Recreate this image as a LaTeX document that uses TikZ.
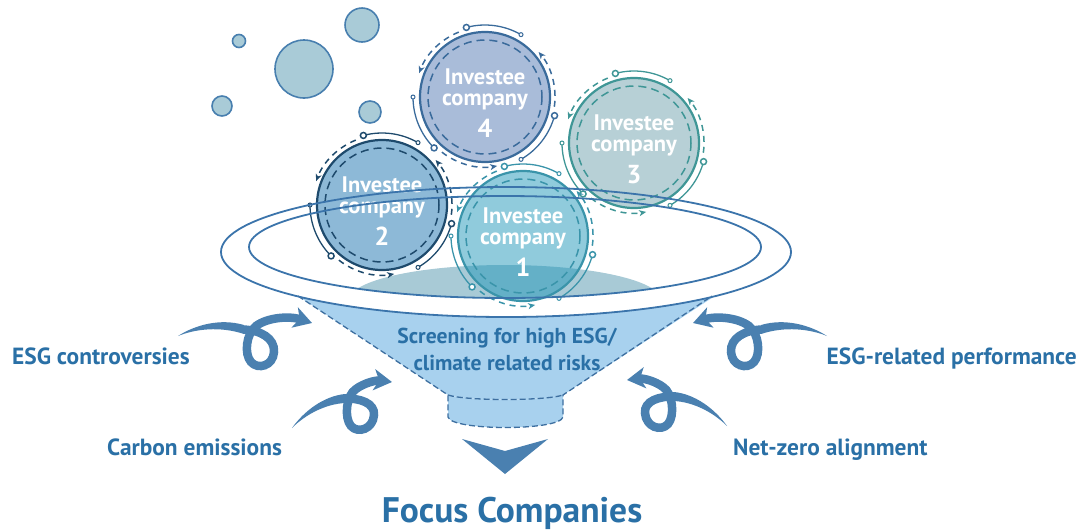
\documentclass[tikz,border=0pt]{standalone}
\usepackage{fontspec}
\setmainfont{PT Sans}
\usetikzlibrary{positioning,arrows.meta,calc}

\definecolor{rimblue}{RGB}{59,116,171}
\definecolor{swirlblue}{RGB}{74,128,176}
\definecolor{lblblue}{RGB}{42,112,166}
\definecolor{funfill}{RGB}{168,209,238}
\definecolor{funedge}{RGB}{61,111,160}
\definecolor{liquid}{RGB}{168,202,214}
\definecolor{bubfill}{RGB}{169,203,215}
\definecolor{bubline}{RGB}{72,127,175}
\definecolor{cAfill}{RGB}{33,151,185}
\definecolor{cAline}{RGB}{58,148,170}
\definecolor{cBfill}{RGB}{27,115,175}
\definecolor{cBline}{RGB}{30,74,108}
\definecolor{cCfill}{RGB}{111,161,173}
\definecolor{cCline}{RGB}{63,150,150}
\definecolor{cDfill}{RGB}{83,121,179}
\definecolor{cDline}{RGB}{58,107,155}

\newcommand{\compnum}{\fontsize{26}{26}\selectfont}

% rings, dots and arrows round one company
\newcommand{\orbit}[2]{%
  \draw[#2, line width=1.5pt, dash pattern=on 8pt off 5pt] (#1.center) circle[radius=57];
  \foreach \t in {0,120,240}{
    \draw[#2, line width=1.3pt] (#1.center) ++(-60-\t:72) arc[start angle=-60-\t, end angle=-105-\t, radius=72];
    \draw[#2, line width=1pt, fill=white] (#1.center) ++(-60-\t:72) circle[radius=2];
    \draw[#2, line width=1.5pt, fill=white] (#1.center) ++(-105-\t:72) circle[radius=3];
    \draw[#2, line width=1.5pt, dash pattern=on 6pt off 5pt, -{Stealth[length=7pt,width=6pt,inset=2pt]}] (#1.center) ++(-112-\t:70) arc[start angle=-112-\t, end angle=-160-\t, radius=70];
  }
}

% curly arrows, drawn round their loop
\newcommand{\swirlhi}{%
  \fill[swirlblue] (-82,-8) .. controls (-65,-19) and (-40,-26) .. (-16,-19) -- (-16,-10) .. controls (-40,-18) and (-65,-15) .. (-82,-8);
  \draw[swirl] (-17,-14.5) .. controls (0,-14) and (15,-6) .. (14,8) .. controls (13,22) and (-2,26) .. (-9,18) .. controls (-16,10) and (-14,-10) .. (-4,-18) .. controls (8,-27) and (30,-28) .. (52,-21);
}
\newcommand{\swirllo}{%
  \fill[swirlblue] (-68,21) .. controls (-56,4) and (-36,-11) .. (-15,-13) -- (-15,-4) .. controls (-34,-3) and (-54,7) .. (-68,21);
  \draw[swirl] (-16,-8.5) .. controls (0,-9) and (15,-4) .. (14,8) .. controls (13,22) and (-2,27) .. (-9,19) .. controls (-16,11) and (-14,-12) .. (-4,-18) .. controls (4,-24) and (16,-27) .. (32,-25);
}

\begin{document}
\begin{tikzpicture}[x=1pt, y=-1pt,
  company/.style={circle, minimum size=130pt, inner sep=0pt, line width=2.2pt, fill opacity=0.5},
  comptext/.style={text=white, align=center, inner sep=0pt, font=\bfseries\fontsize{22.5}{21}\selectfont},
  lbl/.style={inner sep=0pt, text=lblblue, font=\bfseries\fontsize{23.4}{27}\selectfont},
  rim/.style={draw=rimblue, line width=1.8pt},
  bubble/.style={draw=bubline, fill=bubfill, line width=1.6pt},
  funneledge/.style={draw=funedge, line width=1.3pt, dash pattern=on 6pt off 3pt},
  swirl/.style={draw=swirlblue, line width=8.5pt, -{Stealth[length=18pt,width=21pt,inset=5pt]}}]
\useasboundingbox (0,0) rectangle (1083,531);

% bubbles
\foreach \x/\y/\r in {239/41/6.5, 304/69/29, 362/25/17, 222/106/10, 370/112/11}
  \draw[bubble] (\x,\y) circle[radius=\r];

% liquid inside the rim
\begin{scope}
  \clip (505,247) ellipse[x radius=256, y radius=51];
  \fill[liquid] (505,300) ellipse[x radius=156, y radius=35];
\end{scope}

% funnel body and neck
\fill[funfill] (298,296) arc[start angle=137, end angle=43, x radius=285, y radius=65] -- (563,395) .. controls (545,401) and (466,401) .. (448,395) -- cycle;
\fill[funfill] (448,395) .. controls (466,401) and (545,401) .. (563,395) -- (563,417) .. controls (560,431) and (451,431) .. (448,417) -- cycle;
\draw[funneledge] (298,296) -- (448,395) -- (448,417) .. controls (451,431) and (560,431) .. (563,417) -- (563,395) -- (712,296);
\draw[funneledge] (448,395) .. controls (466,401) and (545,401) .. (563,395);
\node[text=lblblue, font=\bfseries\fontsize{21.6}{27}\selectfont, align=center] (screen) at (507,349) {Screening for high ESG/\\climate related risks};

% companies
\node[company, draw=cDline, fill=cDfill] (c4) at (485,97) {};
\node[company, draw=cCline, fill=cCfill] (c3) at (634,143) {};
\node[company, draw=cBline, fill=cBfill] (c2) at (382,205) {};
\node[company, draw=cAline, fill=cAfill] (c1) at (523,236) {};
\orbit{c4}{cDline}
\orbit{c3}{cCline}
\orbit{c2}{cBline}
\orbit{c1}{cAline}
\foreach \c/\n in {c4/4, c3/3, c2/2, c1/1}
  \node[comptext] (t\n) at ([yshift=-6pt]\c.center) {Investee\\company\\[8pt]{\compnum \n}};

% rim
\draw[rim] (506,252) ellipse[x radius=285, y radius=65];
\draw[rim] (505,247) ellipse[x radius=256, y radius=51];

% output
\fill[swirlblue] (462,439) -- (505,451) -- (548,439) -- (505,474) -- cycle;
\node[lbl, anchor=base, font=\bfseries\fontsize{35.5}{40}\selectfont] (focus) at (512,522) {Focus Companies};

% criteria
\node[lbl, anchor=base west] (esgc) at (12,364) {ESG controversies};
\node[lbl, anchor=base west] (carbon) at (107,455) {Carbon emissions};
\node[lbl, anchor=base east] (esgp) at (1077,364) {ESG-related performance};
\node[lbl, anchor=base west] (netzero) at (733,455) {Net-zero alignment};

\coordinate (s1) at (260,344);
\coordinate (s2) at (360,407);
\coordinate (s3) at (745,344);
\coordinate (s4) at (659,405);
\begin{scope}[shift={(s1)}] \swirlhi \end{scope}
\begin{scope}[shift={(s2)}] \swirllo \end{scope}
\begin{scope}[shift={(s3)}, xscale=-1] \swirlhi \end{scope}
\begin{scope}[shift={(s4)}, xscale=-1] \swirllo \end{scope}
\end{tikzpicture}
\end{document}
